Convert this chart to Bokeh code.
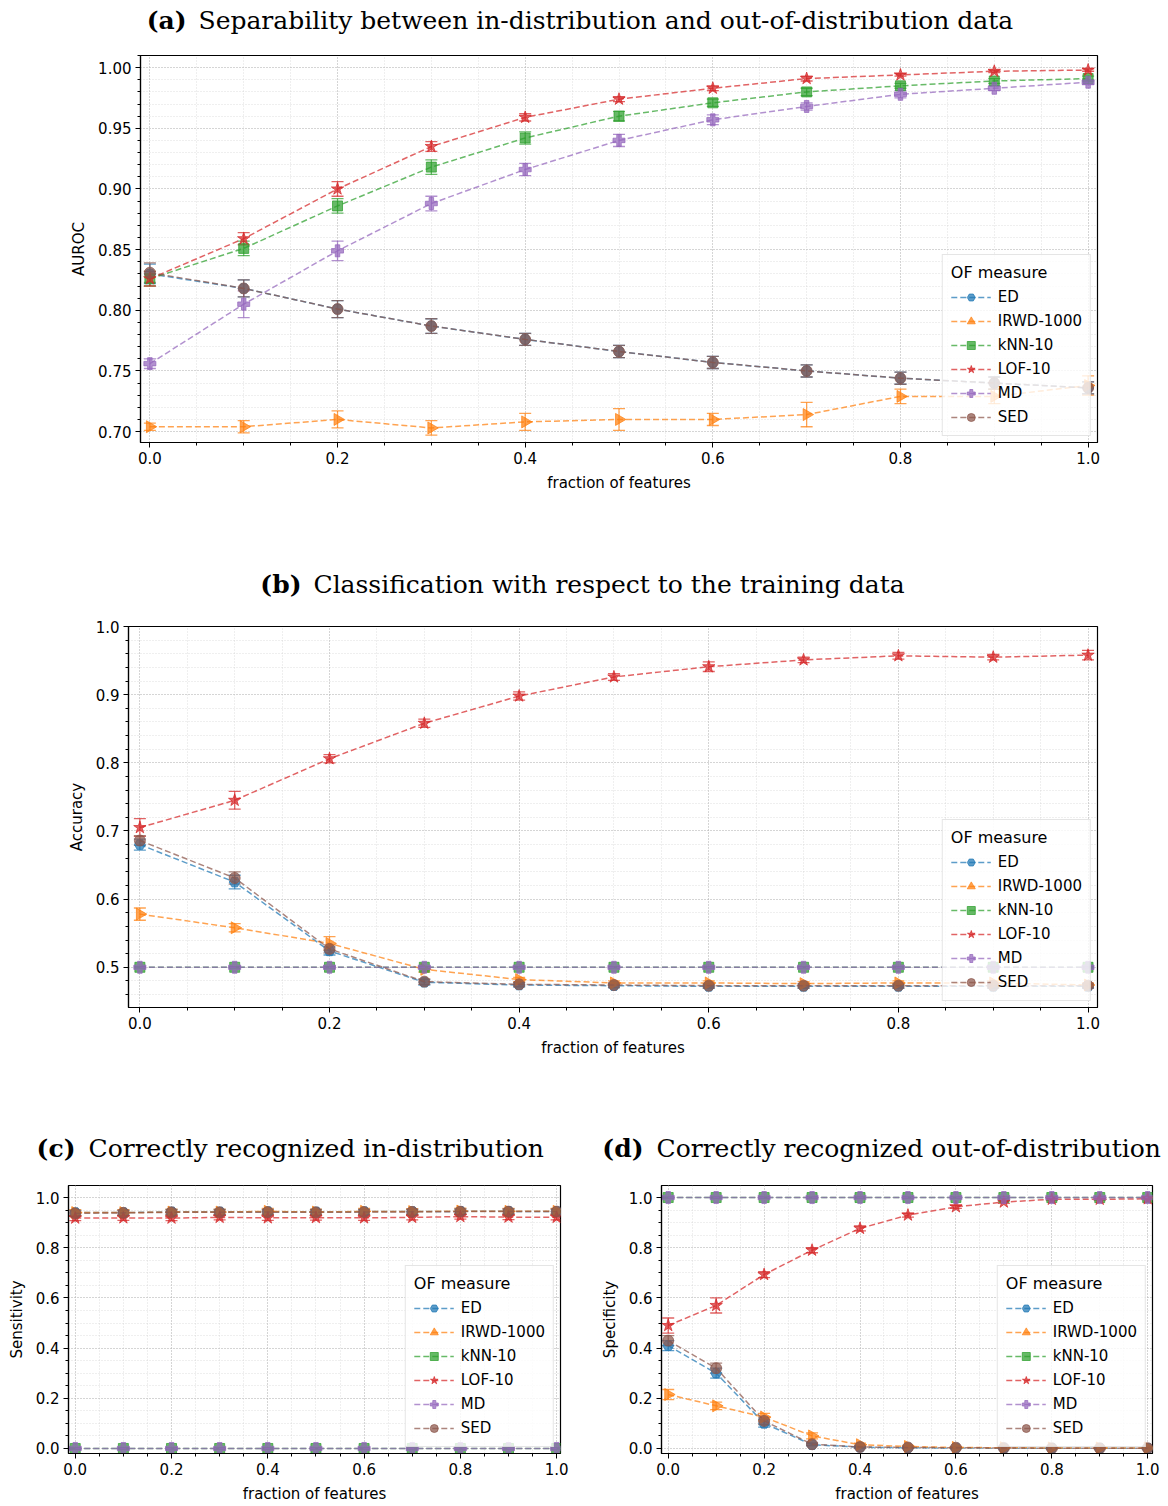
import numpy as np
from bokeh.plotting import figure
from bokeh.models import (ColumnDataSource, Whisker, TeeHead, Legend, LegendItem,
                          SingleIntervalTicker, NumeralTickFormatter, Range1d)
from bokeh.core.properties import value
from bokeh.layouts import column, row
from bokeh.embed import file_html
from bokeh.resources import INLINE

# ---------------- data ----------------
fractions = [0.0, 0.1, 0.2, 0.3, 0.4, 0.5, 0.6, 0.7, 0.8, 0.9, 1.0]
measures = ["ED", "IRWD-1000", "kNN-10", "LOF-10", "MD", "SED"]

# (a) AUROC
auroc_ed = [0.830, 0.818, 0.801, 0.787, 0.776, 0.766, 0.757, 0.750, 0.744, 0.740, 0.736]
auroc_irwd = [0.704, 0.704, 0.710, 0.703, 0.708, 0.710, 0.710, 0.714, 0.729, 0.729, 0.738]
auroc_knn = [0.826, 0.851, 0.886, 0.918, 0.942, 0.960, 0.971, 0.980, 0.985, 0.989, 0.991]
auroc_lof = [0.826, 0.859, 0.900, 0.935, 0.959, 0.974, 0.983, 0.991, 0.994, 0.997, 0.998]
auroc_md = [0.756, 0.805, 0.849, 0.888, 0.916, 0.940, 0.957, 0.968, 0.978, 0.983, 0.988]
auroc_sed = [0.831, 0.818, 0.801, 0.787, 0.776, 0.766, 0.757, 0.750, 0.744, 0.740, 0.736]
auroc_ed_err = [0.008, 0.007, 0.007, 0.006, 0.005, 0.005, 0.005, 0.005, 0.005, 0.005, 0.005]
auroc_irwd_err = [0.003, 0.005, 0.007, 0.006, 0.007, 0.009, 0.005, 0.010, 0.006, 0.006, 0.008]
auroc_knn_err = [0.006, 0.006, 0.006, 0.006, 0.005, 0.004, 0.003, 0.003, 0.002, 0.002, 0.002]
auroc_lof_err = [0.006, 0.005, 0.006, 0.004, 0.003, 0.002, 0.002, 0.002, 0.001, 0.001, 0.001]
auroc_md_err = [0.004, 0.011, 0.008, 0.006, 0.005, 0.005, 0.004, 0.003, 0.003, 0.002, 0.002]
auroc_sed_err = [0.008, 0.007, 0.007, 0.006, 0.005, 0.005, 0.005, 0.005, 0.005, 0.005, 0.005]

# (b) Accuracy
acc_ed = [0.680, 0.625, 0.524, 0.478, 0.474, 0.473, 0.472, 0.472, 0.472, 0.472, 0.472]
acc_irwd = [0.578, 0.558, 0.535, 0.497, 0.482, 0.477, 0.477, 0.476, 0.477, 0.477, 0.474]
acc_knn = [0.500, 0.500, 0.500, 0.500, 0.500, 0.500, 0.500, 0.500, 0.500, 0.500, 0.500]
acc_lof = [0.705, 0.745, 0.806, 0.858, 0.898, 0.926, 0.941, 0.951, 0.957, 0.955, 0.958]
acc_md = [0.500, 0.500, 0.500, 0.500, 0.500, 0.500, 0.500, 0.500, 0.500, 0.500, 0.500]
acc_sed = [0.686, 0.631, 0.527, 0.479, 0.475, 0.474, 0.473, 0.473, 0.473, 0.473, 0.473]
acc_ed_err = [0.008, 0.010, 0.006, 0.004, 0.003, 0.003, 0.003, 0.003, 0.003, 0.003, 0.003]
acc_irwd_err = [0.009, 0.006, 0.010, 0.004, 0.003, 0.003, 0.003, 0.003, 0.003, 0.003, 0.003]
acc_knn_err = [0.001] * 11
acc_lof_err = [0.013, 0.013, 0.006, 0.006, 0.006, 0.005, 0.007, 0.004, 0.005, 0.004, 0.007]
acc_md_err = [0.001] * 11
acc_sed_err = [0.007, 0.009, 0.006, 0.004, 0.003, 0.003, 0.003, 0.003, 0.003, 0.003, 0.003]

# (c) Sensitivity
sens_ed = [0.940, 0.940, 0.943, 0.943, 0.944, 0.943, 0.944, 0.944, 0.945, 0.945, 0.944]
sens_irwd = [0.940, 0.940, 0.942, 0.942, 0.945, 0.942, 0.945, 0.944, 0.946, 0.945, 0.945]
sens_knn = [0.0] * 11
sens_lof = [0.918, 0.919, 0.918, 0.921, 0.919, 0.920, 0.919, 0.921, 0.924, 0.922, 0.921]
sens_md = [0.0] * 11
sens_sed = [0.937, 0.939, 0.941, 0.941, 0.942, 0.941, 0.942, 0.943, 0.944, 0.944, 0.944]
sens_ed_err = [0.010] * 11
sens_irwd_err = [0.012] * 11
sens_knn_err = [0.002] * 11
sens_lof_err = [0.010] * 11
sens_md_err = [0.002] * 11
sens_sed_err = [0.010] * 11

# (d) Specificity
spec_ed = [0.410, 0.300, 0.100, 0.015, 0.005, 0.003, 0.002, 0.001, 0.001, 0.001, 0.001]
spec_irwd = [0.215, 0.170, 0.125, 0.050, 0.015, 0.008, 0.004, 0.003, 0.002, 0.002, 0.002]
spec_knn = [1.0] * 11
spec_lof = [0.490, 0.570, 0.693, 0.790, 0.877, 0.930, 0.963, 0.982, 0.993, 0.993, 0.995]
spec_md = [1.0] * 11
spec_sed = [0.430, 0.320, 0.110, 0.017, 0.006, 0.004, 0.003, 0.002, 0.001, 0.001, 0.001]
spec_ed_err = [0.020, 0.020, 0.015, 0.005, 0.003, 0.002, 0.002, 0.001, 0.001, 0.001, 0.001]
spec_irwd_err = [0.020, 0.015, 0.015, 0.012, 0.006, 0.004, 0.003, 0.002, 0.002, 0.002, 0.002]
spec_knn_err = [0.002] * 11
spec_lof_err = [0.030, 0.030, 0.012, 0.010, 0.010, 0.008, 0.006, 0.005, 0.004, 0.004, 0.003]
spec_md_err = [0.002] * 11
spec_sed_err = [0.020, 0.020, 0.015, 0.005, 0.003, 0.002, 0.002, 0.001, 0.001, 0.001, 0.001]

# ---------------- style ----------------
colors = ["#1f77b4", "#ff7f0e", "#2ca02c", "#d62728", "#9467bd", "#8c564b"]
markers = ["hex", "triangle", "square", "star", "plus", "circle"]
marker_sizes = [11, 12, 10, 13, 12, 11]
marker_angles = [0, -np.pi / 2, 0, 0, 0, 0]
ALPHA = 0.72
SANS = "DejaVu Sans"
SERIF = "DejaVu Serif"


def title_fig(width, height, tag, title, tag_right, rest_x, mid_y):
    t = figure(width=width, height=height, output_backend="svg", toolbar_location=None,
               x_range=Range1d(0, width), y_range=Range1d(height, 0),
               x_axis_type=None, y_axis_type=None, min_border=0)
    t.outline_line_color = None
    t.grid.visible = False
    t.text(x=[tag_right], y=[mid_y], text=[tag], text_font=value(SERIF),
           text_font_size="25px", text_font_style="bold", text_baseline="middle",
           text_align="right", text_color="black")
    t.text(x=[rest_x], y=[mid_y], text=[title], text_font=value(SERIF),
           text_font_size="25px", text_font_style="normal", text_baseline="middle",
           text_align="left", text_color="black")
    return t


def make_panel(series, errs, width, height, borders, xlim, ylim, y_interval, y_minor,
               y_fmt, ylabel):
    left, right, top, bottom = borders
    p = figure(width=width, height=height, output_backend="svg", toolbar_location=None,
               x_range=Range1d(*xlim), y_range=Range1d(*ylim),
               min_border_left=left, min_border_right=right,
               min_border_top=top, min_border_bottom=bottom)
    p.outline_line_color = "black"
    p.outline_line_width = 1.2
    p.background_fill_color = "white"

    p.xaxis.ticker = SingleIntervalTicker(interval=0.2, num_minor_ticks=4)
    p.yaxis.ticker = SingleIntervalTicker(interval=y_interval, num_minor_ticks=y_minor)
    p.xaxis.formatter = NumeralTickFormatter(format="0.0")
    p.yaxis.formatter = NumeralTickFormatter(format=y_fmt)
    for ax in (p.xaxis[0], p.yaxis[0]):
        ax.axis_line_color = "black"
        ax.axis_line_width = 1.2
        ax.major_tick_line_color = "black"
        ax.minor_tick_line_color = "black"
        ax.major_tick_out = 5
        ax.major_tick_in = 0
        ax.minor_tick_out = 3
        ax.minor_tick_in = 0
        ax.major_label_text_font = SANS
        ax.major_label_text_font_size = "15px"
        ax.major_label_text_color = "black"
        ax.major_label_standoff = 4
        ax.axis_label_text_font = SANS
        ax.axis_label_text_font_size = "15px"
        ax.axis_label_text_font_style = "normal"
        ax.axis_label_text_color = "black"
        ax.axis_label_standoff = 7
    p.xaxis.axis_label = "fraction of features"
    p.yaxis.axis_label = ylabel

    for g in (p.xgrid[0], p.ygrid[0]):
        g.grid_line_color = "#b0b0b0"
        g.grid_line_dash = "1 2"
        g.grid_line_width = 0.9
        g.grid_line_alpha = 0.9
        g.minor_grid_line_color = "#c8c8c8"
        g.minor_grid_line_dash = "1 2"
        g.minor_grid_line_width = 0.7
        g.minor_grid_line_alpha = 0.8

    items = []
    for name, vals, err, col, mk, ms, ang in zip(measures, series, errs, colors, markers,
                                                 marker_sizes, marker_angles):
        v = np.array(vals, dtype=float)
        e = np.array(err, dtype=float)
        src = ColumnDataSource(dict(x=fractions, y=v, lo=v - e, hi=v + e))
        w = Whisker(source=src, base="x", lower="lo", upper="hi", dimension="height",
                    line_color=col, line_alpha=ALPHA, line_width=1.3,
                    upper_head=TeeHead(size=12, line_color=col, line_alpha=ALPHA, line_width=1.3),
                    lower_head=TeeHead(size=12, line_color=col, line_alpha=ALPHA, line_width=1.3))
        p.add_layout(w)
        lr = p.line("x", "y", source=src, line_color=col, line_alpha=ALPHA,
                    line_width=1.5, line_dash="6 3")
        sr = p.scatter("x", "y", source=src, marker=mk, size=ms, angle=ang,
                       fill_color=col, fill_alpha=ALPHA, line_color=col, line_alpha=ALPHA)
        items.append(LegendItem(label=name, renderers=[lr, sr]))

    legend = Legend(items=items, location="bottom_right", title="OF measure",
                    title_text_font=SANS, title_text_font_size="16px",
                    title_text_font_style="normal", title_text_color="black",
                    label_text_font=SANS, label_text_font_size="15px", label_text_color="black",
                    border_line_color="#cccccc", border_line_width=1.2,
                    background_fill_color="white", background_fill_alpha=0.8,
                    glyph_width=40, glyph_height=20, label_height=20, spacing=4,
                    padding=8, margin=6, label_standoff=7, title_standoff=5)
    p.add_layout(legend)
    return p


ta = title_fig(1168, 50, "(a)", "Separability between in-distribution and out-of-distribution data",
               186, 198, 20)
pa = make_panel([auroc_ed, auroc_irwd, auroc_knn, auroc_lof, auroc_md, auroc_sed],
                [auroc_ed_err, auroc_irwd_err, auroc_knn_err, auroc_lof_err, auroc_md_err, auroc_sed_err],
                1168, 460, (140, 71, 5, 68), (-0.01, 1.01), (0.691, 1.010), 0.05, 5, "0.00",
                "AUROC")
tb = title_fig(1168, 100, "(b)", "Classification with respect to the training data",
               301, 313, 74)
pb = make_panel([acc_ed, acc_irwd, acc_knn, acc_lof, acc_md, acc_sed],
                [acc_ed_err, acc_irwd_err, acc_knn_err, acc_lof_err, acc_md_err, acc_sed_err],
                1168, 465, (128, 71, 16, 68), (-0.012, 1.01), (0.441, 1.0), 0.1, 5, "0.0",
                "Accuracy")
tc = title_fig(584, 100, "(c)", "Correctly recognized in-distribution", 75, 88, 73)
pc = make_panel([sens_ed, sens_irwd, sens_knn, sens_lof, sens_md, sens_sed],
                [sens_ed_err, sens_irwd_err, sens_knn_err, sens_lof_err, sens_md_err, sens_sed_err],
                584, 331, (68, 24, 10, 53), (-0.014, 1.008), (-0.02, 1.048), 0.2, 4, "0.0",
                "Sensitivity")
td = title_fig(584, 100, "(d)", "Correctly recognized out-of-distribution", 59, 72, 73)
pd_ = make_panel([spec_ed, spec_irwd, spec_knn, spec_lof, spec_md, spec_sed],
                 [spec_ed_err, spec_irwd_err, spec_knn_err, spec_lof_err, spec_md_err, spec_sed_err],
                 584, 331, (77, 16, 10, 53), (-0.014, 1.01), (-0.02, 1.048), 0.2, 4, "0.0",
                 "Specificity")

layout = column(row(ta), row(pa), row(tb), row(pb),
                row(column(row(tc), row(pc)), column(row(td), row(pd_))))
open("out.html", "w").write(file_html(layout, INLINE))
